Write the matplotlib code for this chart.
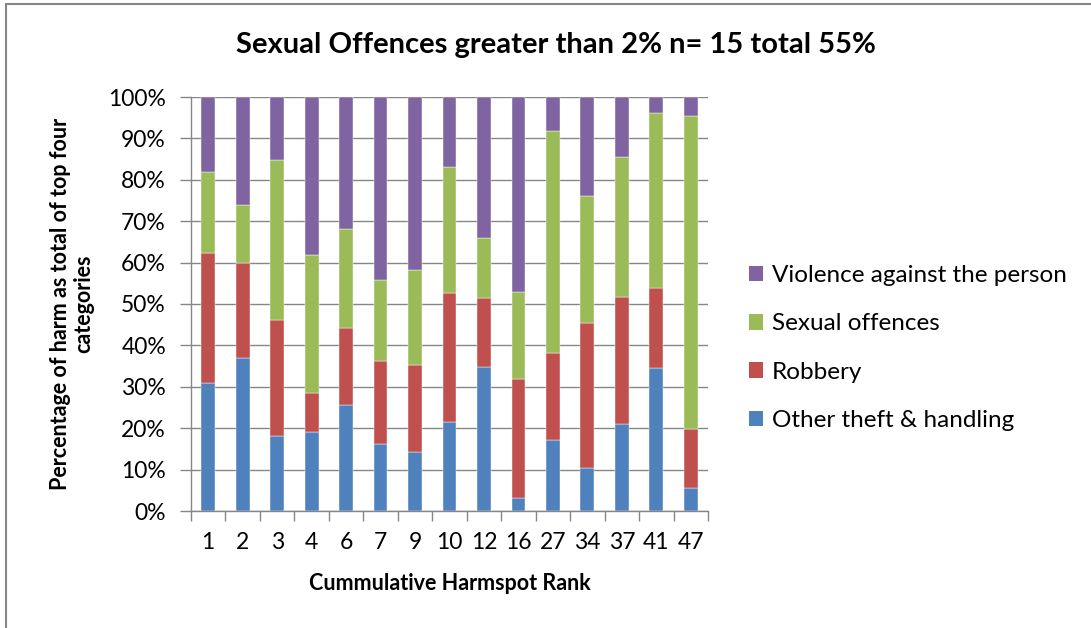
import matplotlib
matplotlib.use("Agg")
import matplotlib.pyplot as plt
from matplotlib.patches import Rectangle, Patch
import numpy as np

plt.rcParams['font.family'] = ['Lato', 'DejaVu Sans']

ranks = ["1", "2", "3", "4", "6", "7", "9", "10", "12", "16", "27", "34", "37", "41", "47"]
other_theft = [31.0, 36.9, 18.0, 19.2, 25.6, 16.1, 14.2, 21.6, 34.7, 3.1, 17.1, 10.3, 21.0, 34.5, 5.5]
robbery = [31.3, 23.0, 28.2, 9.4, 18.6, 20.1, 21.0, 31.0, 16.7, 28.8, 21.0, 35.0, 30.6, 19.3, 14.3]
sexual = [19.6, 14.0, 38.7, 33.3, 23.8, 19.7, 23.0, 30.6, 14.6, 21.1, 53.6, 30.7, 33.8, 42.3, 75.6]
violence = [18.1, 26.1, 15.1, 38.1, 32.0, 44.1, 41.8, 16.8, 34.0, 47.0, 8.3, 24.0, 14.6, 3.9, 4.6]

series = [
    ("Other theft & handling", other_theft, "#4F81BD"),
    ("Robbery", robbery, "#C0504D"),
    ("Sexual offences", sexual, "#9BBB59"),
    ("Violence against the person", violence, "#8064A2"),
]

W, H = 1091, 628
fig = plt.figure(figsize=(W / 100, H / 100), dpi=100)
fig.patches.append(Rectangle((6 / W, -0.1), 1.2, 1 - 4 / H + 0.1, transform=fig.transFigure,
                             fill=False, edgecolor="#868686", linewidth=1.5))

ax = fig.add_axes([191 / W, 1 - 511 / H, (708 - 191) / W, (511 - 97) / H])
x = np.arange(len(ranks))
bottom = np.zeros(len(ranks))
handles = []
for name, vals, col in series:
    v = np.array(vals)
    ax.bar(x, v, bottom=bottom, width=0.4, color=col, edgecolor="white", linewidth=0.3, zorder=3)
    bottom += v
    handles.append(Patch(facecolor=col, label=name))

ax.set_xlim(-0.5, len(ranks) - 0.5)
ax.set_ylim(0, 100)
ax.set_yticks(np.arange(0, 101, 10))
ax.set_yticklabels([f"{t}%" for t in range(0, 101, 10)])
ax.yaxis.grid(True, color="#868686", linewidth=1.0, zorder=0)
ax.set_axisbelow(True)
ax.set_xticks(x)
ax.set_xticklabels(ranks)
ax.set_xticks(np.arange(-0.5, len(ranks), 1), minor=True)
ax.tick_params(axis="x", which="major", length=0, pad=15, labelsize=16.5)
ax.tick_params(axis="x", which="minor", length=7, color="#868686", width=1)
ax.tick_params(axis="y", length=8, color="#868686", width=1, labelsize=16.5, pad=10)
for s in ["top", "right"]:
    ax.spines[s].set_visible(False)
for s in ["left", "bottom"]:
    ax.spines[s].set_color("#868686")
    ax.spines[s].set_linewidth(1)

fig.text(450 / W, 1 - 583 / H, "Cummulative Harmspot Rank", ha="center", va="center",
         fontsize=15.5, fontweight="bold")
fig.text(72 / W, 1 - 304 / H, "Percentage of harm as total of top four\ncategories",
         rotation=90, ha="center", va="center", fontsize=15.5, fontweight="bold", linespacing=1.15)
fig.text(556 / W, 1 - 45 / H, "Sexual Offences greater than 2% n= 15 total 55%",
         ha="center", va="center", fontsize=21, fontweight="bold")

fig.legend(handles=handles[::-1], loc="center left", bbox_to_anchor=(727 / W, 1 - 348 / H),
           frameon=False, fontsize=17.5, handlelength=0.6, handleheight=0.6,
           labelspacing=1.12, handletextpad=0.35)

fig.savefig("out.png", dpi=100)
